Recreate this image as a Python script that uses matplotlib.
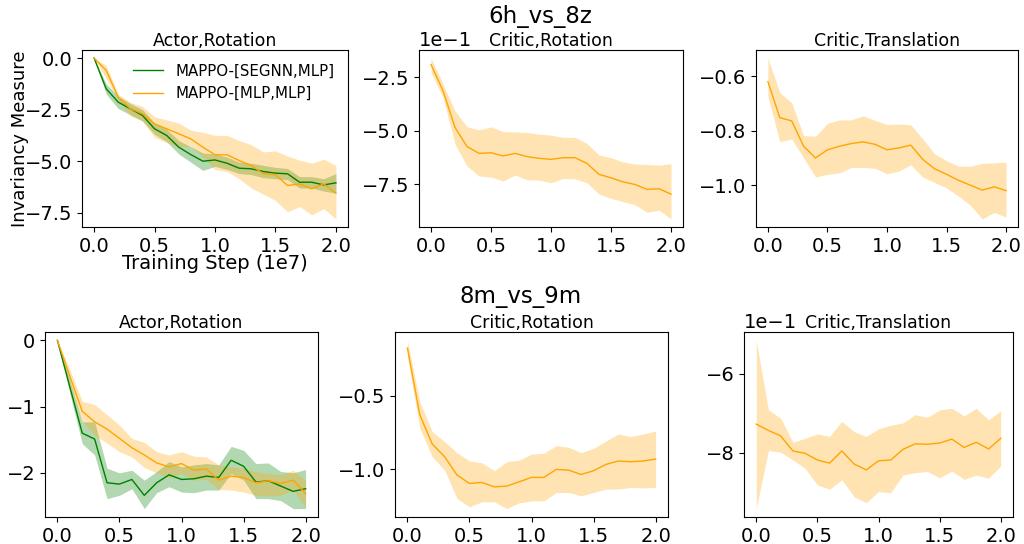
import numpy as np
import matplotlib.pyplot as plt

# training steps (x 1e7)
steps = np.round(np.arange(0, 2.01, 0.1), 1)

# 6h_vs_8z, actor rotation
h_actor_seg = [0.0, -1.49, -2.14, -2.46, -2.78, -3.43, -3.75, -4.32, -4.68, -5.0, -4.94,
               -5.1, -5.34, -5.37, -5.5, -5.58, -5.61, -6.02, -6.02, -6.15, -6.05]
h_actor_seg_lo = [0.0, -1.75, -2.45, -2.75, -3.05, -3.7, -4.05, -4.65, -5.05, -5.45, -5.25,
                  -5.4, -5.6, -5.65, -5.8, -5.85, -5.9, -6.3, -6.3, -6.45, -6.55]
h_actor_seg_hi = [0.0, -1.25, -1.85, -2.2, -2.5, -3.15, -3.45, -4.0, -4.3, -4.6, -4.65,
                  -4.8, -5.05, -5.1, -5.2, -5.3, -5.35, -5.75, -5.75, -5.85, -5.6]
h_actor_mlp = [0.0, -0.6, -1.9, -2.46, -2.7, -3.19, -3.43, -3.67, -3.92, -4.32, -4.69,
               -4.69, -4.97, -5.21, -5.61, -5.65, -6.18, -6.1, -6.34, -6.1, -6.55]
h_actor_mlp_lo = [0.0, -1.0, -2.05, -2.8, -3.05, -3.85, -4.1, -4.3, -4.3, -4.8, -5.4,
                  -5.5, -5.85, -6.3, -6.6, -6.9, -7.45, -7.2, -7.6, -7.3, -7.8]
h_actor_mlp_hi = [0.0, -0.36, -1.75, -2.15, -2.35, -2.85, -3.0, -3.15, -3.5, -3.6, -3.75,
                  -3.75, -4.0, -4.2, -4.55, -4.5, -4.75, -4.95, -5.1, -4.9, -5.21]

# 6h_vs_8z, critic rotation
h_crot = [-0.19, -0.312, -0.484, -0.573, -0.605, -0.602, -0.617, -0.605, -0.62, -0.628, -0.633,
          -0.625, -0.625, -0.652, -0.703, -0.719, -0.738, -0.75, -0.773, -0.77, -0.795]
h_crot_lo = [-0.227, -0.344, -0.562, -0.664, -0.711, -0.715, -0.734, -0.706, -0.728, -0.73, -0.742,
             -0.722, -0.724, -0.742, -0.795, -0.815, -0.83, -0.845, -0.88, -0.87, -0.911]
h_crot_hi = [-0.16, -0.281, -0.406, -0.481, -0.495, -0.481, -0.503, -0.505, -0.507, -0.515, -0.52,
             -0.53, -0.53, -0.559, -0.612, -0.625, -0.645, -0.655, -0.657, -0.66, -0.653]

# 6h_vs_8z, critic translation
h_ctr = [-0.62, -0.752, -0.764, -0.857, -0.9, -0.87, -0.857, -0.847, -0.841, -0.85, -0.87,
         -0.863, -0.853, -0.905, -0.94, -0.96, -0.982, -1.0, -1.018, -1.006, -1.02]
h_ctr_lo = [-0.675, -0.84, -0.83, -0.9, -0.97, -0.96, -0.955, -0.935, -0.935, -0.938, -0.958,
            -0.948, -0.925, -0.97, -0.99, -1.01, -1.04, -1.074, -1.124, -1.1, -1.117]
h_ctr_hi = [-0.533, -0.66, -0.697, -0.818, -0.82, -0.773, -0.76, -0.76, -0.745, -0.762, -0.777,
            -0.775, -0.778, -0.83, -0.885, -0.91, -0.93, -0.93, -0.92, -0.918, -0.915]

# 8m_vs_9m, actor rotation
m_actor_seg = [0.0, -0.7, -1.4, -1.49, -2.15, -2.17, -2.1, -2.34, -2.15, -2.03, -2.1,
               -2.09, -2.05, -2.07, -1.81, -1.9, -2.14, -2.12, -2.2, -2.28, -2.24]
m_actor_seg_lo = [0.0, -0.8, -1.56, -1.73, -2.39, -2.34, -2.24, -2.54, -2.3, -2.21, -2.29,
                  -2.3, -2.26, -2.26, -2.01, -2.11, -2.39, -2.39, -2.42, -2.54, -2.54]
m_actor_seg_hi = [0.0, -0.6, -1.23, -1.23, -1.93, -2.0, -1.96, -2.11, -1.98, -1.83, -1.91,
                  -1.88, -1.86, -1.88, -1.6, -1.66, -1.86, -1.85, -1.98, -2.0, -1.95]
m_actor_mlp = [0.0, -0.54, -1.07, -1.23, -1.34, -1.48, -1.62, -1.73, -1.85, -1.91, -1.86,
               -1.96, -1.94, -2.11, -2.05, -2.07, -2.15, -2.12, -2.16, -2.11, -2.31]
m_actor_mlp_lo = [0.0, -0.64, -1.23, -1.43, -1.55, -1.68, -1.76, -1.92, -2.0, -2.07, -2.01,
                  -2.11, -2.1, -2.25, -2.26, -2.29, -2.34, -2.35, -2.34, -2.26, -2.52]
m_actor_mlp_hi = [0.0, -0.44, -0.92, -0.97, -1.12, -1.28, -1.48, -1.54, -1.68, -1.73, -1.68,
                  -1.75, -1.76, -1.88, -1.91, -1.93, -1.98, -2.01, -2.03, -1.96, -2.11]

# 8m_vs_9m, critic rotation
m_crot = [-0.179, -0.631, -0.828, -0.914, -1.038, -1.095, -1.088, -1.118, -1.113, -1.084, -1.054,
          -1.054, -1.0, -1.005, -1.034, -1.009, -0.966, -0.943, -0.948, -0.943, -0.93]
m_crot_lo = [-0.235, -0.722, -0.914, -1.005, -1.197, -1.253, -1.219, -1.219, -1.265, -1.226, -1.213,
             -1.213, -1.156, -1.156, -1.179, -1.156, -1.133, -1.133, -1.122, -1.125, -1.122]
m_crot_hi = [-0.127, -0.541, -0.744, -0.812, -0.887, -0.943, -0.955, -1.009, -0.948, -0.937, -0.896,
             -0.89, -0.839, -0.85, -0.887, -0.857, -0.808, -0.76, -0.778, -0.76, -0.74]

# 8m_vs_9m, critic translation
m_ctr = [-0.728, -0.744, -0.758, -0.796, -0.802, -0.819, -0.827, -0.796, -0.829, -0.844, -0.821,
         -0.819, -0.792, -0.778, -0.779, -0.776, -0.766, -0.787, -0.774, -0.791, -0.764]
m_ctr_lo = [-0.942, -0.795, -0.799, -0.819, -0.84, -0.882, -0.893, -0.869, -0.912, -0.927, -0.899,
            -0.902, -0.857, -0.851, -0.848, -0.864, -0.847, -0.868, -0.857, -0.865, -0.834]
m_ctr_hi = [-0.516, -0.692, -0.713, -0.774, -0.764, -0.753, -0.759, -0.721, -0.747, -0.759, -0.74,
            -0.731, -0.725, -0.704, -0.711, -0.692, -0.688, -0.707, -0.688, -0.717, -0.694]

xticks = [0.0, 0.5, 1.0, 1.5, 2.0]

GREEN = "green"
ORANGE = "orange"

fig = plt.figure(figsize=(10.24, 5.44), dpi=100)

W, H = 1024, 544


def place(x0, x1, y0, y1):
    return fig.add_axes([x0 / W, 1 - y1 / H, (x1 - x0) / W, (y1 - y0) / H])


def band(ax, y, lo, hi, color, label=None):
    ax.fill_between(steps, lo, hi, color=color, alpha=0.3, linewidth=0)
    ax.plot(steps, y, color=color, linewidth=1.0, label=label)


axes_top = [place(82, 348, 50, 227), place(419, 683, 50, 227), place(756, 1018, 50, 227)]
axes_bot = [place(45, 318, 332, 517), place(395, 668, 332, 517), place(744, 1013, 332, 517)]

ax = axes_top[0]
band(ax, h_actor_seg, h_actor_seg_lo, h_actor_seg_hi, GREEN, "MAPPO-[SEGNN,MLP]")
band(ax, h_actor_mlp, h_actor_mlp_lo, h_actor_mlp_hi, ORANGE, "MAPPO-[MLP,MLP]")
ax.set_title("Actor,Rotation", fontsize=12.5, pad=3)
ax.set_ylabel("Invariancy Measure", fontsize=13, labelpad=-3)
ax.set_xlabel("Training Step (1e7)", fontsize=14, labelpad=-1)
ax.legend(loc="upper right", frameon=False, fontsize=10.8)

ax = axes_top[1]
band(ax, h_crot, h_crot_lo, h_crot_hi, ORANGE)
ax.set_title("Critic,Rotation", fontsize=12.5, pad=3)

ax = axes_top[2]
band(ax, h_ctr, h_ctr_lo, h_ctr_hi, ORANGE)
ax.set_title("Critic,Translation", fontsize=12.5, pad=3)

ax = axes_bot[0]
band(ax, m_actor_seg, m_actor_seg_lo, m_actor_seg_hi, GREEN)
band(ax, m_actor_mlp, m_actor_mlp_lo, m_actor_mlp_hi, ORANGE)
ax.set_title("Actor,Rotation", fontsize=12.5, pad=3)

ax = axes_bot[1]
band(ax, m_crot, m_crot_lo, m_crot_hi, ORANGE)
ax.set_title("Critic,Rotation", fontsize=12.5, pad=3)

ax = axes_bot[2]
band(ax, m_ctr, m_ctr_lo, m_ctr_hi, ORANGE)
ax.set_title("Critic,Translation", fontsize=12.5, pad=3)

for ax in axes_top + axes_bot:
    ax.set_xticks(xticks)
    ax.tick_params(labelsize=14)
    ax.yaxis.get_offset_text().set_fontsize(14)
for ax in axes_top[1:] + axes_bot[1:]:
    ax.ticklabel_format(axis="y", style="sci", scilimits=(0, 0))

fig.text(540 / W, 1 - 17 / H, "6h_vs_8z", ha="center", va="center", fontsize=16.5)
fig.text(521 / W, 1 - 297 / H, "8m_vs_9m", ha="center", va="center", fontsize=16.5)

fig.savefig("out.png", dpi=100)
